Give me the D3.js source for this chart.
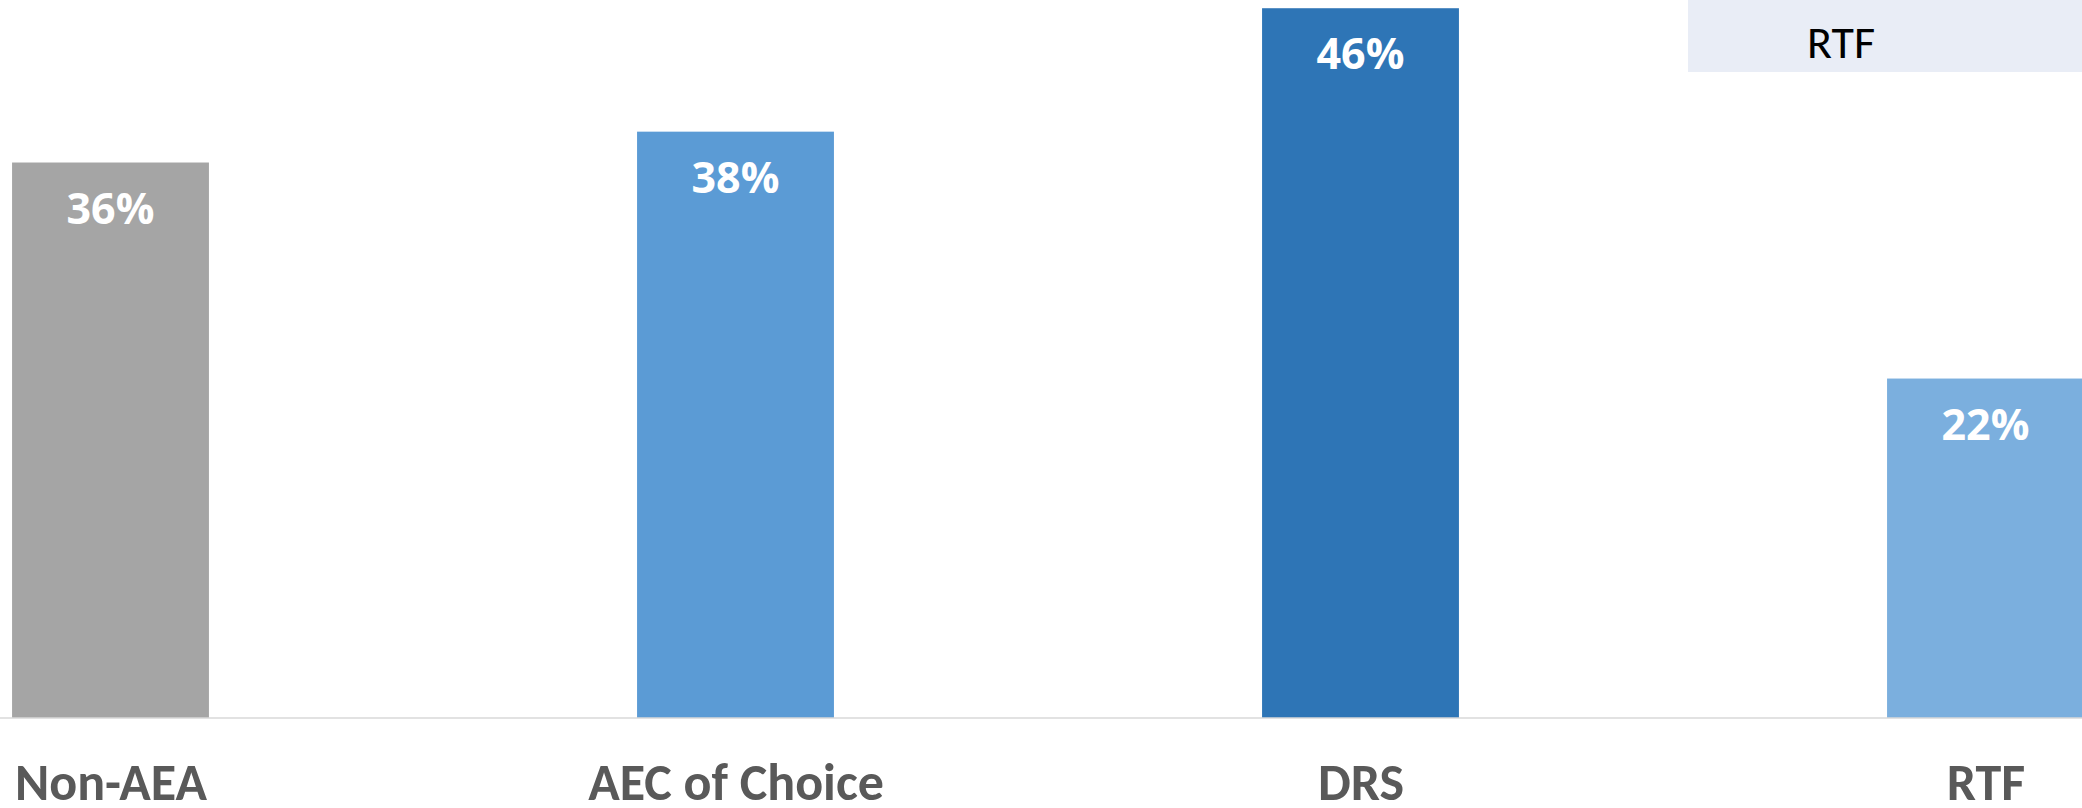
<!DOCTYPE html>
<html>
<head>
<meta charset="utf-8">
<script src="https://cdn.jsdelivr.net/npm/d3@7"></script>
<style>
  html, body { margin: 0; padding: 0; background: #ffffff; overflow: hidden; }
  svg { display: block; }
</style>
</head>
<body>
<svg id="chart" width="2082" height="808"></svg>
<script>
// Share of participants by program group (%)
const categories = ["Non-AEA", "AEC of Choice", "DRS", "RTF"];
const values = [36, 38, 46, 22];
const barColors = ["#A5A5A5", "#5B9BD5", "#2E75B6", "#7BAFDE"];
const legendLabels = ["RTF"];

const W = 2082, H = 808;
const baseY = 718;
const font = "Calibri, Carlito, 'Open Sans', sans-serif";
// Figures need lining digits, so the value labels use a face that defaults to them
const numFont = "'Open Sans', 'Noto Sans', sans-serif";

const svg = d3.select("#chart");

// Category centres, evenly spaced across the plot
const x = d3.scalePoint().domain(categories).range([110.5, 1985.5]);
const barW = x.step() * 0.315;

// Value scale: 0% sits on the baseline
const y = d3.scaleLinear().domain([0, 50]).range([baseY, baseY - 50 * 15.43]);

// Bars
svg.append("g").selectAll("rect")
  .data(categories)
  .join("rect")
  .attr("x", (d) => x(d) - barW / 2)
  .attr("y", (d, i) => y(values[i]))
  .attr("width", barW)
  .attr("height", (d, i) => y(0) - y(values[i]))
  .attr("fill", (d, i) => barColors[i]);

// Value labels inside the top of each bar
svg.append("g").selectAll("text")
  .data(categories)
  .join("text")
  .attr("x", (d) => x(d))
  .attr("y", (d, i) => y(values[i]) + 61)
  .attr("text-anchor", "middle")
  .attr("font-family", numFont)
  .attr("font-weight", "bold")
  .attr("font-size", 43)
  .attr("fill", "#ffffff")
  .text((d, i) => values[i] + "%");

// Category axis along the baseline
const axis = svg.append("g")
  .attr("transform", `translate(0,${baseY})`)
  .call(d3.axisBottom(x).tickSize(0).tickPadding(0));
axis.select(".domain").remove();
axis.append("line")
  .attr("x1", 0).attr("x2", W)
  .attr("y1", 0).attr("y2", 0)
  .attr("stroke", "#D9D9D9")
  .attr("stroke-width", 1.7);
axis.selectAll(".tick text")
  .attr("dy", null)
  .attr("y", 82)
  .attr("font-family", font)
  .attr("font-weight", "bold")
  .attr("font-size", 52)
  .attr("fill", "#595959");

// Legend panel in the top-right corner
const legend = svg.append("g");
legend.append("rect")
  .attr("x", 1688).attr("y", 0)
  .attr("width", W - 1688).attr("height", 72)
  .attr("fill", "#E9EDF6");
legend.selectAll("text")
  .data(legendLabels)
  .join("text")
  .attr("x", 1807)
  .attr("y", 58)
  .attr("font-family", font)
  .attr("font-size", 46)
  .attr("fill", "#000000")
  .text((d) => d);
</script>
</body>
</html>
